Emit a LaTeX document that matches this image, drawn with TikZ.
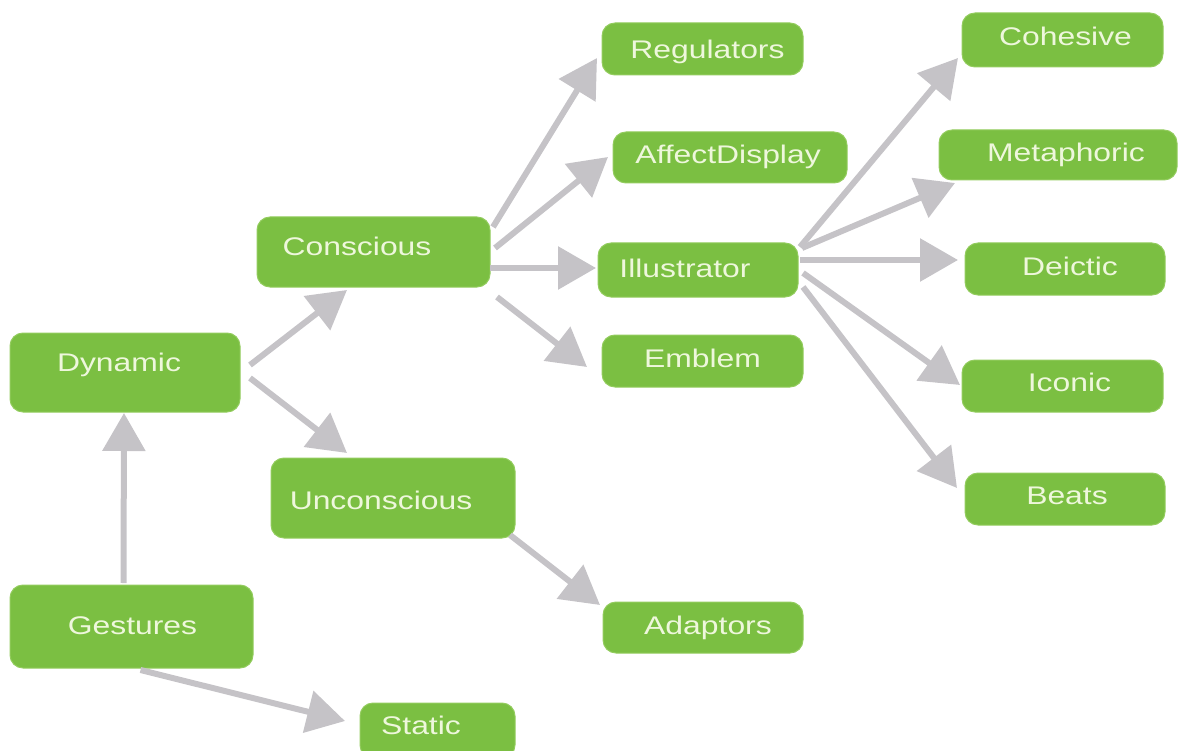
\documentclass[tikz,border=0pt]{standalone}
\usepackage{fontspec}
\setmainfont{Liberation Sans}
\usepackage{graphicx}
\usetikzlibrary{arrows.meta,calc}
\definecolor{gfill}{HTML}{7BBF42}
\definecolor{gline}{HTML}{93CC5E}
\definecolor{gtext}{HTML}{EEF7DC}
\definecolor{agray}{HTML}{C5C3C7}
\tikzset{
  gbox/.style={draw=gline, line width=1pt, fill=gfill, rounded corners=13pt, inner sep=0pt, outer sep=0pt},
  gtxt/.style={anchor=base, inner sep=0pt, text=gtext, font=\fontsize{25.5}{30}\selectfont},
  garrow/.style={draw=agray, line width=6pt, -{Triangle[length=38pt,width=42pt]}},
}
\newcommand\gbox[6]{%
  \node[gbox, minimum width=#3pt, minimum height=#4pt] (#1) at (#2) {};
  \node[gtxt] at ($(#1)+(#5)$) {\scalebox{1.25}[1]{#6}};}
\begin{document}
\begin{tikzpicture}[x=1pt,y=-1pt]
\useasboundingbox (0,0) rectangle (1180,751);
\gbox{reg}{702.5,49}{201}{52}{5,10}{Regulators}
\gbox{aff}{730,157.5}{234}{51}{-2,6.5}{AffectDisplay}
\gbox{con}{373.5,252}{233}{70}{-16.5,4}{Conscious}
\gbox{ill}{698,270}{200}{54}{-13,7}{Illustrator}
\gbox{emb}{702.5,361}{201}{52}{0,6}{Emblem}
\gbox{dyn}{125,372.5}{230}{79}{-6,-1}{Dynamic}
\gbox{unc}{393,498}{244}{80}{-12,11}{Unconscious}
\gbox{ges}{131.5,626.5}{243}{83}{1,7.5}{Gestures}
\gbox{sta}{437.5,730.5}{155}{55}{-16.5,3.5}{Static}
\gbox{ada}{703,627.5}{200}{51}{5,6.5}{Adaptors}
\gbox{coh}{1062.5,40}{201}{54}{3,6}{Cohesive}
\gbox{met}{1058,155}{238}{50}{8,7}{Metaphoric}
\gbox{dei}{1065,269}{200}{52}{5,7}{Deictic}
\gbox{ico}{1062.5,386}{201}{52}{7,5}{Iconic}
\gbox{bea}{1065,499}{200}{52}{2,5}{Beats}

\draw[garrow] ($(ges.north)+(-8,-2)$) -- ($(dyn.south)+(-1,1)$);
\draw[garrow] ($(ges.south)+(9,2)$) -- ($(sta.west)+(-15,-9.5)$);
\draw[garrow] ($(dyn.east)+(10,-7.5)$) -- ($(con.south)+(-26.5,3)$);
\draw[garrow] ($(dyn.east)+(10,5.5)$) -- ($(unc.north)+(-46,-5)$);
\draw[garrow] ($(con.north east)+(3,10)$) -- ($(reg.west)+(-5,9)$);
\draw[garrow] ($(con.east)+(5,-4)$) -- ($(aff.west)+(-5,-0.5)$);
\draw[garrow] ($(con.east)+(0,16)$) -- ($(ill.west)+(-2,-2)$);
\draw[garrow] ($(con.south east)+(7,10)$) -- ($(emb.west)+(-15,6)$);
\draw[garrow] ($(unc.south east)+(-5,-3)$) -- ($(ada.north west)+(-3,3)$);
\draw[garrow] ($(ill.north east)+(2,4)$) -- ($(coh.south west)+(-4,-9)$);
\draw[garrow] ($(ill.east)+(4,-22)$) -- ($(met.south west)+(16,3)$);
\draw[garrow] ($(ill.east)+(2,-10)$) -- ($(dei.west)+(-7,-9)$);
\draw[garrow] ($(ill.east)+(5,3)$) -- ($(ico.west)+(-2,-1)$);
\draw[garrow] ($(ill.east)+(5,17)$) -- ($(bea.west)+(-8,-11)$);
\end{tikzpicture}
\end{document}
